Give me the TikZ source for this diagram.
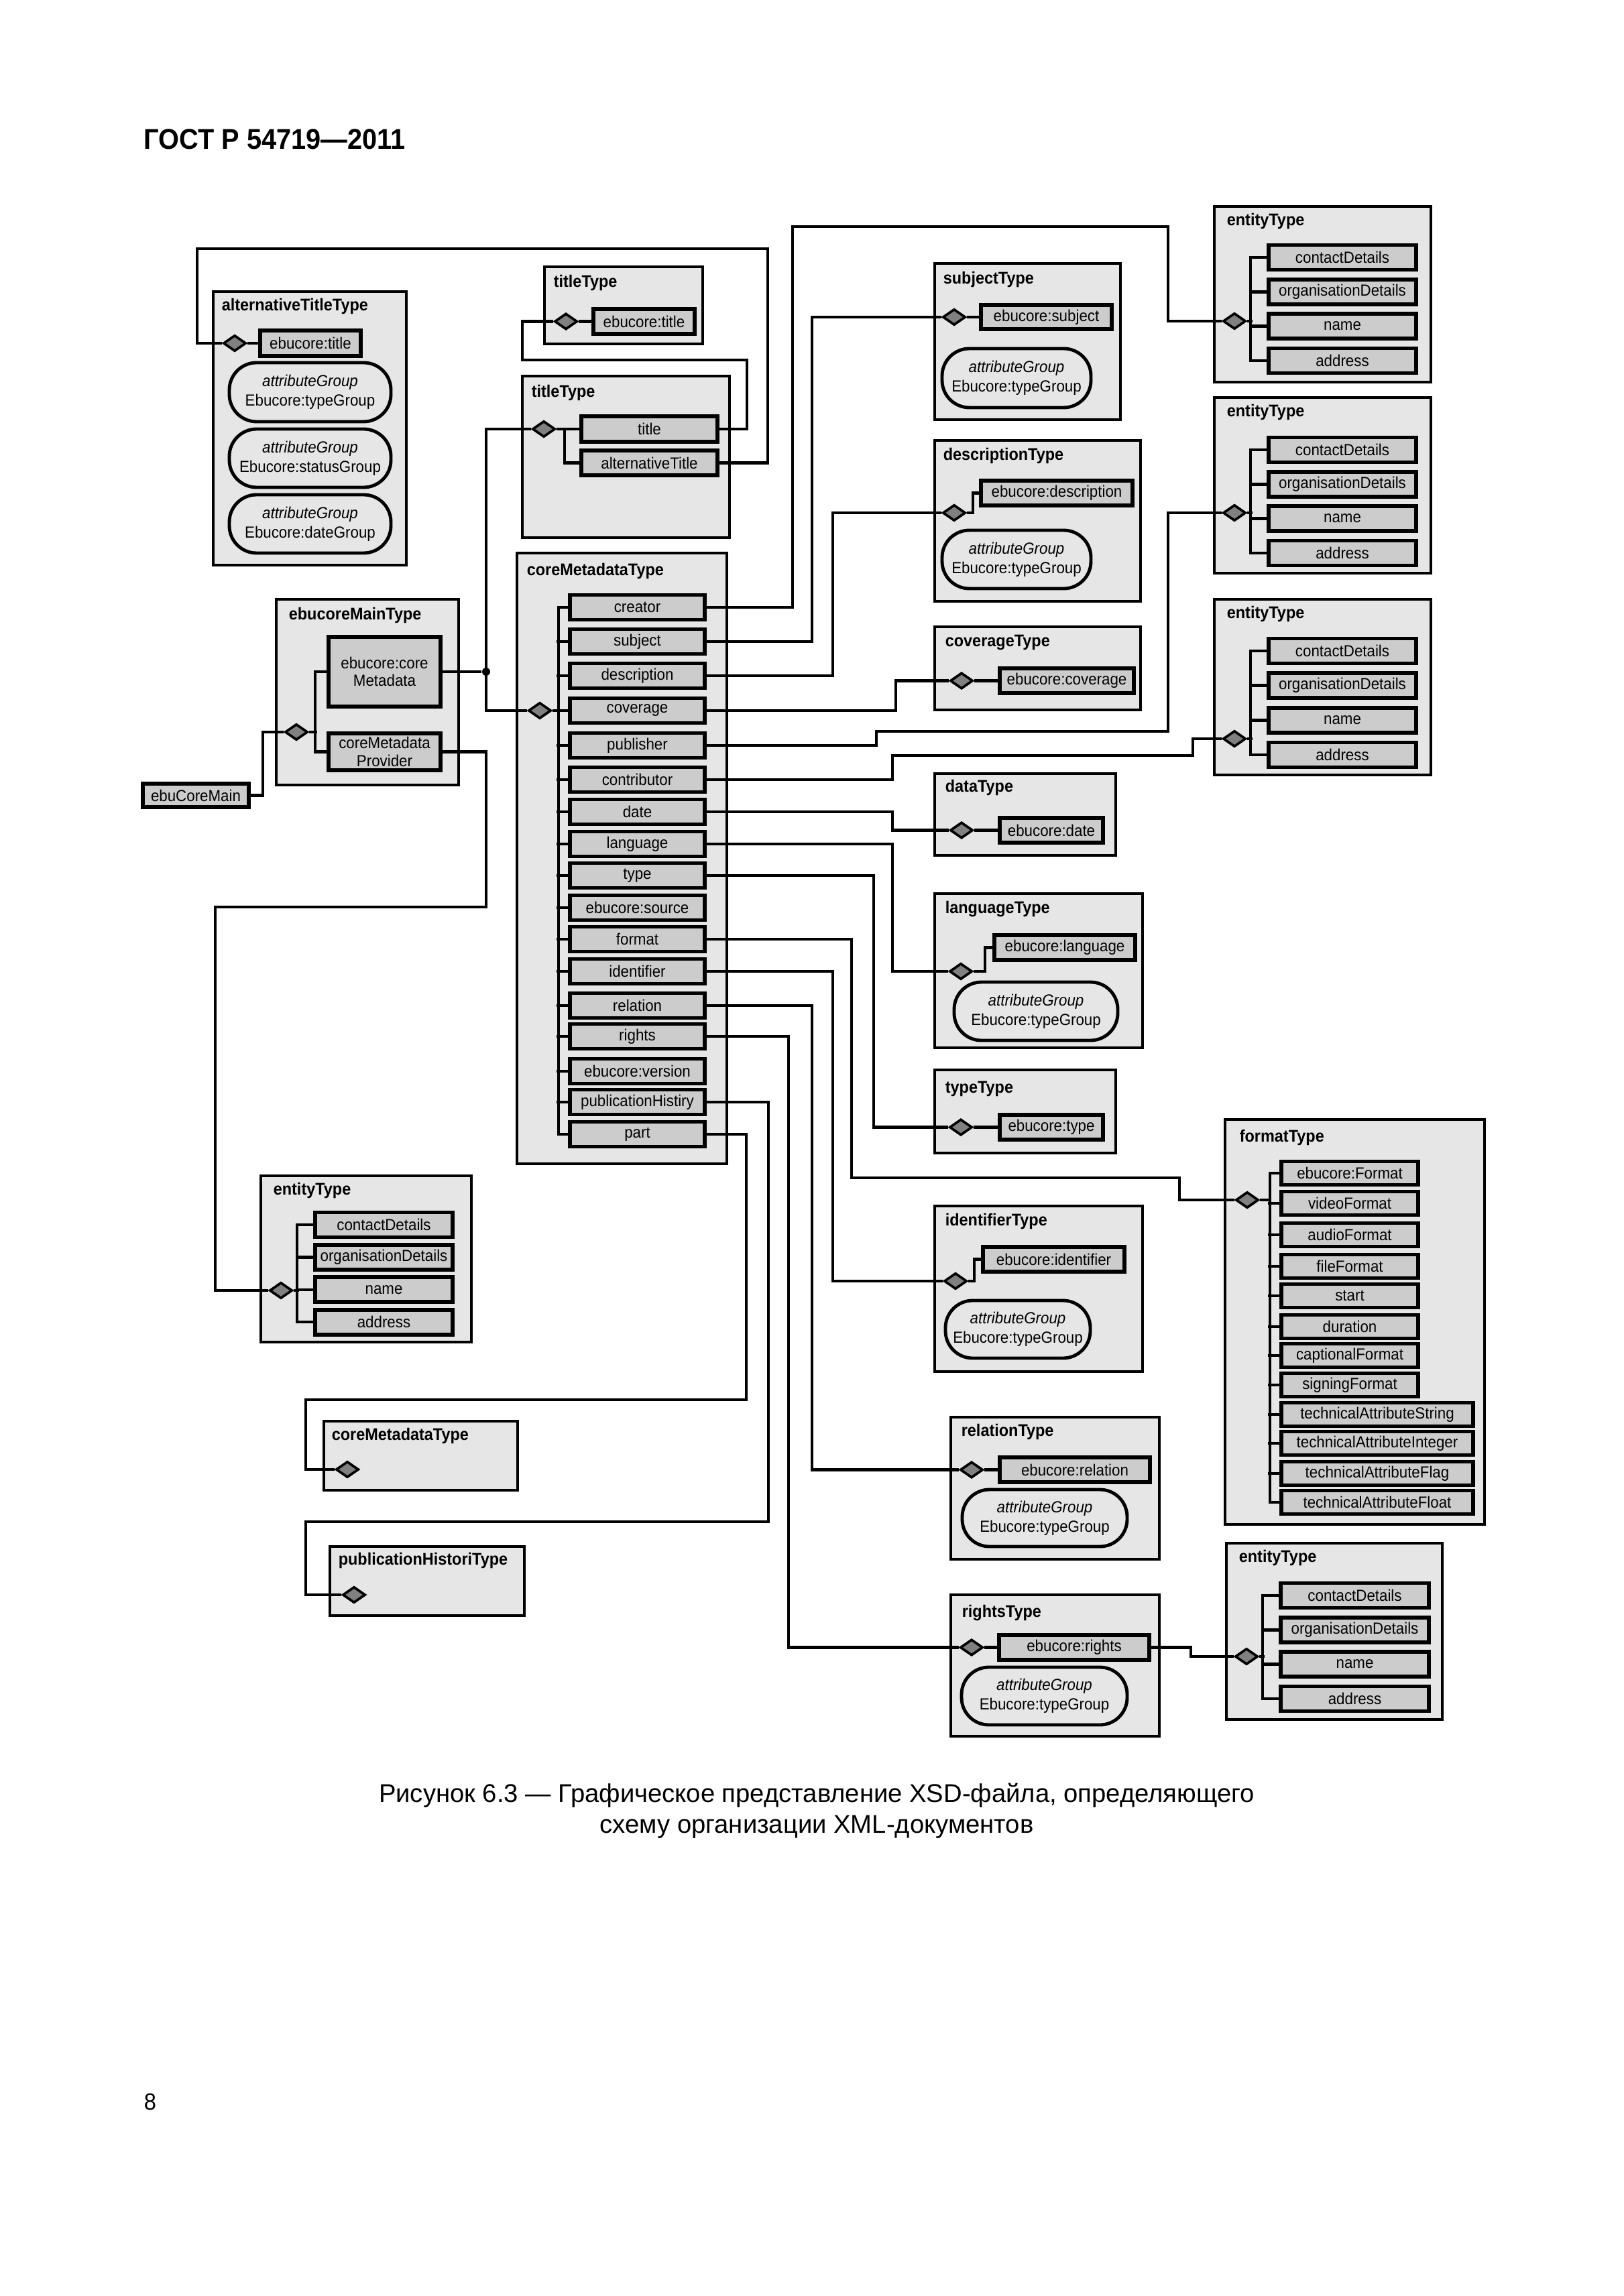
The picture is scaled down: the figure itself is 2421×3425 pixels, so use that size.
\documentclass[tikz,border=0pt]{standalone}
\usepackage{fontspec}
\setmainfont{Liberation Sans}[FakeStretch=0.93]
\newfontfamily\capfont{Liberation Sans}
\usetikzlibrary{shapes.geometric}
\definecolor{boxgray}{HTML}{E6E6E6}
\definecolor{memgray}{HTML}{CCCCCC}
\definecolor{diagray}{HTML}{808080}
\def\px{0.24588pt}
\newcommand\fsm{\fontsize{5.9}{7.1}\selectfont}
\newcommand\fttl{\fontsize{6.2}{7}\selectfont\bfseries}
\newcommand\mkbox[7]{\node[#1, minimum width={((#5)-(#3))*\px}, minimum height={((#6)-(#4))*\px}] (#2) at ({((#3)+(#5))/2},{((#4)+(#6))/2}) {#7};}
\tikzset{
 outer/.style={draw=black, line width=1.2pt, fill=boxgray, inner sep=0pt},
 memb/.style={draw=black, line width=1.4pt, fill=memgray, inner sep=0pt, align=center, font=\fsm},
 ovl/.style={draw=black, line width=1.2pt, fill=boxgray, rounded corners=10pt, inner sep=0pt, align=center, font=\fsm},
 dia/.style={diamond, draw=black, line width=0.9pt, fill=diagray, inner sep=0pt, minimum width={34*\px}, minimum height={24*\px}},
 conn/.style={line width=1.1pt},
 ttl/.style={anchor=west, inner sep=0pt, font=\fttl},
}
\newcommand\entbox[9]{%
  \mkbox{outer}{#1}{#2}{#3}{#4}{#5}{}
  \node[ttl] (#1l) at ({#2+18},{#3+22}) {entityType};
  \foreach \t [count=\i from 0] in {contactDetails,organisationDetails,name,address}{%
    \mkbox{memb}{#1m\i}{#2+81}{#7+\i*#8-18.5}{#6}{#7+\i*#8+18.5}{\t}}
  \node[dia] (#1d) at ({#2+30},{#9}) {};
  \draw[conn] (#1d.east) -- ({#2+57},{#9});
  \draw[conn] (#1m0.west) -- ++(-24,0) |- (#1m3.west);
  \draw[conn] (#1m1.west) -- ++(-24,0);
  \draw[conn] (#1m2.west) -- ++(-24,0);
}
\begin{document}
\begin{tikzpicture}[x=0.24588pt, y=-0.24588pt]
\useasboundingbox (0,0) rectangle (2421,3425);

% header, page number, caption
\node[anchor=base west, inner sep=0pt, font=\fontsize{10.5}{12}\selectfont\bfseries] (hdr) at (214,223) {ГОСТ Р 54719—2011};
\node[anchor=base west, inner sep=0pt, font=\fontsize{8.6}{10}\selectfont] (pg) at (214,3147) {8};
\node[anchor=base, inner sep=0pt, font=\capfont\fontsize{9.4}{11}\selectfont] (cap1) at (1218,2688) {Рисунок 6.3 — Графическое представление XSD-файла, определяющего};
\node[anchor=base, inner sep=0pt, font=\capfont\fontsize{9.4}{11}\selectfont] (cap2) at (1218,2734) {схему организации XML-документов};

% alternativeTitleType
\mkbox{outer}{alt}{318}{435}{606}{843}{}
\node[ttl] (altl) at (330,457) {alternativeTitleType};
\mkbox{memb}{altm}{388}{493}{538}{531}{ebucore:title}
\node[dia] (altd) at (350,512) {};
\mkbox{ovl}{alto1}{342}{541}{583}{629}{\textit{attributeGroup}\\Ebucore:typeGroup}
\mkbox{ovl}{alto2}{342}{640}{583}{727}{\textit{attributeGroup}\\Ebucore:statusGroup}
\mkbox{ovl}{alto3}{342}{738}{583}{825}{\textit{attributeGroup}\\Ebucore:dateGroup}

% titleType (top)
\mkbox{outer}{tta}{812}{398}{1048}{513}{}
\node[ttl] (ttal) at (825,422) {titleType};
\mkbox{memb}{ttam}{885}{461}{1036}{498}{ebucore:title}
\node[dia] (ttad) at (844,479.5) {};

% titleType (second)
\mkbox{outer}{ttb}{779}{561}{1088}{802}{}
\node[ttl] (ttbl) at (792,586) {titleType};
\mkbox{memb}{ttbt}{867}{621}{1070}{659}{title}
\mkbox{memb}{ttba}{867}{672}{1070}{709}{alternativeTitle}
\node[dia] (ttbd) at (811,640) {};

% coreMetadataType
\mkbox{outer}{cmt}{771}{825}{1084}{1736}{}
\node[ttl] (cmtl) at (785,852) {coreMetadataType};
\foreach \t/\y [count=\i] in {creator/906, subject/957, description/1008, coverage/1060, publisher/1112, contributor/1163, date/1211, language/1259, type/1306, ebucore:source/1354, format/1401, identifier/1449, relation/1500, rights/1546, ebucore:version/1598, publicationHistiry/1644, part/1692}{%
  \mkbox{memb}{cm\i}{850}{\y-18.5}{1051}{\y+18.5}{\t}}
\node[dia] (cmd) at (805,1060) {};

% ebucoreMainType
\mkbox{outer}{emt}{412}{894}{684}{1171}{}
\node[ttl] (emtl) at (430,918) {ebucoreMainType};
\mkbox{memb, font=\fontsize{5.9}{6.2}\selectfont}{emtc}{490}{950}{657}{1054}{ebucore:core\\Metadata}
\mkbox{memb, font=\fontsize{5.9}{6.6}\selectfont}{emtp}{490}{1094}{657}{1149}{coreMetadata\\Provider}
\node[dia] (emtd) at (442,1092) {};
\node[circle, fill=black, inner sep=0pt, minimum size={12*\px}] (jdot) at (725,1002) {};
\mkbox{memb}{ecm}{213}{1169}{371}{1204}{ebuCoreMain}

% subjectType
\mkbox{outer}{st}{1394}{393}{1671}{626}{}
\node[ttl] (stl) at (1406,417) {subjectType};
\mkbox{memb}{stm}{1463}{455}{1658}{491}{ebucore:subject}
\node[dia] (std) at (1423,473) {};
\mkbox{ovl}{sto}{1405}{520}{1627}{608}{\textit{attributeGroup}\\Ebucore:typeGroup}

% descriptionType
\mkbox{outer}{dt}{1394}{657}{1701}{897}{}
\node[ttl] (dtl) at (1406,680) {descriptionType};
\mkbox{memb}{dtm}{1463}{717}{1689}{754}{ebucore:description}
\node[dia] (dtd) at (1423,765) {};
\mkbox{ovl}{dto}{1405}{791}{1627}{878}{\textit{attributeGroup}\\Ebucore:typeGroup}

% coverageType
\mkbox{outer}{cvt}{1394}{935}{1701}{1059}{}
\node[ttl] (cvtl) at (1409,958) {coverageType};
\mkbox{memb}{cvtm}{1491}{997}{1691}{1034}{ebucore:coverage}
\node[dia] (cvtd) at (1434,1015.5) {};

% dataType
\mkbox{outer}{dat}{1394}{1154}{1664}{1276}{}
\node[ttl] (datl) at (1409,1175) {dataType};
\mkbox{memb}{datm}{1491}{1220}{1645}{1257}{ebucore:date}
\node[dia] (datd) at (1434,1238.5) {};

% languageType
\mkbox{outer}{lt}{1394}{1333}{1704}{1563}{}
\node[ttl] (ltl) at (1409,1356) {languageType};
\mkbox{memb}{ltm}{1483}{1395}{1693}{1432}{ebucore:language}
\node[dia] (ltd) at (1433,1449) {};
\mkbox{ovl}{lto}{1423}{1465}{1667}{1552}{\textit{attributeGroup}\\Ebucore:typeGroup}

% typeType
\mkbox{outer}{tyt}{1394}{1596}{1664}{1720}{}
\node[ttl] (tytl) at (1409,1624) {typeType};
\mkbox{memb}{tytm}{1491}{1663}{1645}{1700}{ebucore:type}
\node[dia] (tytd) at (1433,1681.5) {};

% formatType
\mkbox{outer}{ft}{1827}{1670}{2214}{2274}{}
\node[ttl] (ftl) at (1848,1697) {formatType};
\foreach \t/\y/\w [count=\i] in {ebucore:Format/1750/2115, videoFormat/1795/2115, audioFormat/1842/2115, fileFormat/1889/2115, start/1933/2115, duration/1979/2115, captionalFormat/2022/2115, signingFormat/2066/2115, technicalAttributeString/2110/2197, technicalAttributeInteger/2153/2197, technicalAttributeFlag/2198/2197, technicalAttributeFloat/2241/2197}{%
  \mkbox{memb}{fm\i}{1911}{\y-17.5}{\w}{\y+17.5}{\t}}
\node[dia] (ftd) at (1860,1790) {};

% identifierType
\mkbox{outer}{it}{1394}{1799}{1704}{2046}{}
\node[ttl] (itl) at (1409,1822) {identifierType};
\mkbox{memb}{itm}{1466}{1860}{1677}{1897}{ebucore:identifier}
\node[dia] (itd) at (1425,1911) {};
\mkbox{ovl}{ito}{1410}{1940}{1626}{2026}{\textit{attributeGroup}\\Ebucore:typeGroup}

% relationType
\mkbox{outer}{rt}{1418}{2114}{1729}{2326}{}
\node[ttl] (rtl) at (1433,2136) {relationType};
\mkbox{memb}{rtm}{1491}{2174}{1715}{2211}{ebucore:relation}
\node[dia] (rtd) at (1449,2192.5) {};
\mkbox{ovl}{rto}{1435}{2222}{1681}{2307}{\textit{attributeGroup}\\Ebucore:typeGroup}

% rightsType
\mkbox{outer}{rit}{1418}{2379}{1729}{2590}{}
\node[ttl] (ritl) at (1434,2406) {rightsType};
\mkbox{memb}{ritm}{1490}{2439}{1714}{2476}{ebucore:rights}
\node[dia] (ritd) at (1449,2457.5) {};
\mkbox{ovl}{rito}{1434}{2487}{1681}{2573}{\textit{attributeGroup}\\Ebucore:typeGroup}

% small boxes bottom-left
\mkbox{outer}{cms}{483}{2120}{772}{2223}{}
\node[ttl] (cmsl) at (494,2142) {coreMetadataType};
\node[dia] (cmsd) at (518,2192) {};
\mkbox{outer}{pht}{492}{2307}{782}{2410}{}
\node[ttl] (phtl) at (504,2328) {publicationHistoriType};
\node[dia] (phtd) at (528,2379) {};

% entity types
\entbox{ea}{1811}{308}{2134}{570}{2112}{384}{51.3}{479}
\entbox{eb}{1811}{593}{2134}{855}{2112}{671}{51.3}{765}
\entbox{ec}{1811}{894}{2134}{1156}{2112}{971}{51.7}{1102}
\entbox{ed}{1829}{2302}{2151}{2565}{2131}{2380}{51.3}{2471}
\entbox{ee}{389}{1754}{703}{2002}{675}{1827}{48.4}{1925}

% internal branches
\draw[conn] (altd.east) -- (altd.east -| altm.west);
\draw[conn] (ttad.east) -- (ttad.east -| ttam.west);
\draw[conn] (ttbd.east) -- (ttbd.east -| ttbt.west);
\draw[conn] (ttbt.west) ++(-22,0) |- (ttba.west);
\draw[conn] (cmd.east) -- (833,1060);
\draw[conn] (cm1.west) -- (833,906) |- (cm17.west);
\foreach \i in {2,...,16} \draw[conn] (cm\i.west) -- ++(-17,0);
\draw[conn] (emtd.east) -- (473,1092);
\draw[conn] (emtc.west) -- ++(-17,0) |- (emtp.west);
\draw[conn] (std.east) -- (std.east -| stm.west);
\draw[conn] (dtd.east) -- (1451,765) |- (dtm.west);
\draw[conn] (cvtd.east) -- (cvtd.east -| cvtm.west);
\draw[conn] (datd.east) -- (datd.east -| datm.west);
\draw[conn] (ltd.east) -- (1469,1449) |- (ltm.west);
\draw[conn] (tytd.east) -- (tytd.east -| tytm.west);
\draw[conn] (ftd.east) -- (1894,1790);
\draw[conn] (fm1.west) -- (1894,1750) |- (fm12.west);
\foreach \i in {2,...,11} \draw[conn] (fm\i.west) -- ++(-17,0);
\draw[conn] (itd.east) -- (1453,1911) |- (itm.west);
\draw[conn] (rtd.east) -- (rtd.east -| rtm.west);
\draw[conn] (ritd.east) -- (ritd.east -| ritm.west);

% connectors between types
\draw[conn] (ttba.east) -| (1145,371) -| (294,512) -- (altd.west);
\draw[conn] (ttbt.east) -| (1114,537) -| (779,479.5) -- (ttad.west);
\draw[conn] (ttbd.west) -- (725,640) |- (cmd.west);
\draw[conn] (emtc.east) -- (jdot);
\draw[conn] (emtp.east) -| (725,1353) -| (321,1925) -- (eed.west);
\draw[conn] (ecm.east) -- (392,1186.5) |- (emtd.west);

\draw[conn] (cm1.east) -| (1182,338) -| (1742,479) -- (ead.west);
\draw[conn] (cm2.east) -| (1211,473) -- (std.west);
\draw[conn] (cm3.east) -| (1242,765) -- (dtd.west);
\draw[conn] (cm4.east) -| (1336,1015.5) -- (cvtd.west);
\draw[conn] (cm5.east) -| (1307,1091) -| (1742,765) -- (ebd.west);
\draw[conn] (cm6.east) -| (1331,1127) -| (1779,1102) -- (ecd.west);
\draw[conn] (cm7.east) -| (1331,1238.5) -- (datd.west);
\draw[conn] (cm8.east) -| (1331,1449) -- (ltd.west);
\draw[conn] (cm9.east) -| (1303,1681.5) -- (tytd.west);
\draw[conn] (cm11.east) -| (1270,1757) -| (1759,1790) -- (ftd.west);
\draw[conn] (cm12.east) -| (1242,1911) -- (itd.west);
\draw[conn] (cm13.east) -| (1211,2192.5) -- (rtd.west);
\draw[conn] (cm14.east) -| (1176,2457.5) -- (ritd.west);
\draw[conn] (cm16.east) -| (1146,2270) -| (456,2379) -- (phtd.west);
\draw[conn] (cm17.east) -| (1113,2088) -| (456,2192) -- (cmsd.west);
\draw[conn] (ritm.east) -| (1776,2471) -- (edd.west);
\end{tikzpicture}
\end{document}
